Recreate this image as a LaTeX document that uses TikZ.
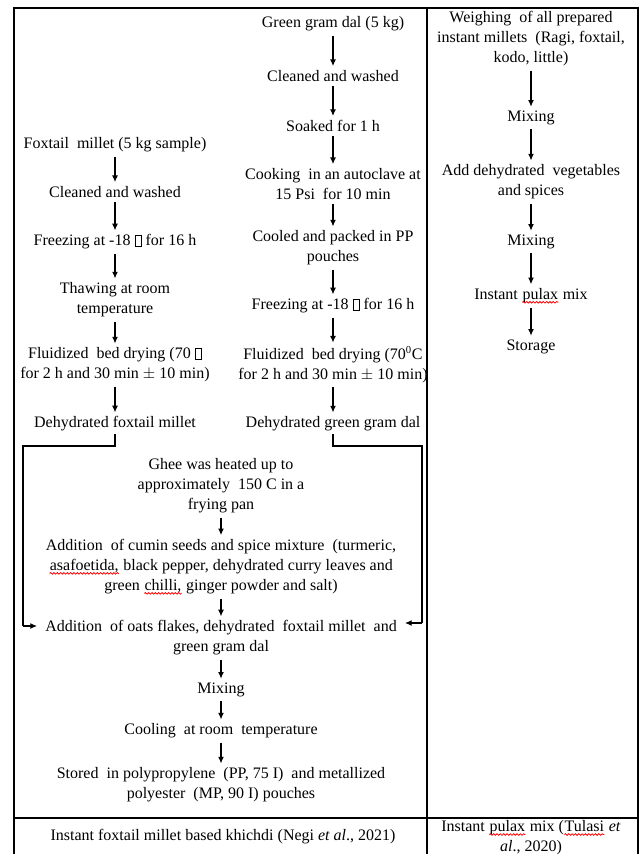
\documentclass[tikz,border=0pt]{standalone}
\usepackage{fontspec}
\setmainfont{Liberation Serif}
\usetikzlibrary{arrows.meta, decorations.pathmorphing}
\newcommand{\typo}[1]{\tikz[baseline=(w.base)]{\node[inner sep=0pt] (w) {#1};
  \draw[red, line width=0.6pt, decorate, decoration={snake, amplitude=0.6pt, segment length=2.5pt}]
    ([yshift=-2pt]w.base west) -- ([yshift=-2pt]w.base east);}}
\newcommand{\nog}{{\setlength\fboxsep{0pt}\setlength\fboxrule{0.4pt}%
  \fbox{\rule{0pt}{7.5pt}\hspace{4.5pt}}}}
\tikzset{
    stage/.style={inner xsep=2pt, inner ysep=2pt, yshift=-1.5pt, align=center,
    	font=\fontsize{12}{15}\selectfont},
    arr/.style={-{Latex[length=5pt,width=4.5pt]}, line width=0.9pt},
    flow/.style={arr, shorten <=1pt, shorten >=1pt},
    link/.style={line width=1pt},
    rule/.style={line width=1pt}
}

\begin{document}
\begin{tikzpicture}[x=0.75pt, y=-0.75pt]
  \useasboundingbox (0,0) rectangle (641,854);
  \draw[rule] (14,854) -- (14,8) -- (638,8) -- (638,854);
  \draw[rule] (427,8) -- (427,854);
  \draw[rule] (14,818) -- (638,818);

  % foxtail millet
  \node (fx1) [stage] at (115,143) {Foxtail\ \ millet (5 kg sample)};
  \node (fx2) [stage] at (115,190) {Cleaned and washed};
  \node (fx3) [stage] at (115,240) {Freezing at -18 \nog{} for 16 h};
  \node (fx4) [stage] at (115,298) {Thawing at room\\temperature};
  \node (fx5) [stage] at (115,363) {Fluidized\ \ bed drying (70 \nog\\for 2 h and 30 min $\pm$ 10 min)};
  \node (fx6) [stage] at (115,422) {Dehydrated foxtail millet};

  % green gram dal
  \node (gg1) [stage] at (333,22) {Green gram dal (5 kg)};
  \node (gg2) [stage] at (333,74) {Cleaned and washed};
  \node (gg3) [stage] at (333,124) {Soaked for 1 h};
  \node (gg4) [stage] at (333,182) {Cooking\ \ in an autoclave at\\15 Psi\ \ for 10 min};
  \node (gg5) [stage] at (333,246) {Cooled and packed in PP\\pouches};
  \node (gg6) [stage] at (333,304) {Freezing at -18 \nog{} for 16 h};
  \node (gg7) [stage] at (333,363) {Fluidized\ \ bed drying (70\textsuperscript{0}C\\for 2 h and 30 min $\pm$ 10 min)};
  \node (gg8) [stage] at (333,422) {Dehydrated green gram dal};

  % khichdi
  \node (kh1) [stage] at (221,484) {Ghee was heated up to\\approximately\ \ 150 C in a\\frying pan};
  \node (kh2) [stage] at (221,565) {Addition\ \ of cumin seeds and spice mixture\ \ (turmeric,\\\typo{asafoetida,} black pepper, dehydrated curry leaves and\\green \typo{chilli,} ginger powder and salt)};
  \node (kh3) [stage, inner xsep=6pt] at (221,636) {Addition\ \ of oats flakes, dehydrated\ \ foxtail millet\ \ and\\green gram dal};
  \node (kh4) [stage] at (221,688) {Mixing};
  \node (kh5) [stage] at (221,729) {Cooling\ \ at room\ \ temperature};
  \node (kh6) [stage] at (221,783) {Stored\ \ in polypropylene\ \ (PP, 75 I)\ \ and metallized\\polyester\ \ (MP, 90 I) pouches};
  \node (cap1) [stage] at (223,835) {Instant foxtail millet based khichdi (Negi \textit{et al}., 2021)};

  % pulax
  \node (pl1) [stage] at (531,37) {Weighing\ \ of all prepared\\instant millets\ \ (Ragi, foxtail,\\kodo, little)};
  \node (pl2) [stage] at (531,116) {Mixing};
  \node (pl3) [stage] at (531,180) {Add dehydrated\ \ vegetables\\and spices};
  \node (pl4) [stage] at (531,240) {Mixing};
  \node (pl5) [stage] at (531,294) {Instant \typo{pulax} mix};
  \node (pl6) [stage] at (531,345) {Storage};
  \node (cap2) [stage] at (531,836) {Instant \typo{pulax} mix (\typo{Tulasi} \textit{et}\\\textit{al}., 2020)};

  \draw[flow] (fx1) edge (fx2); \draw[flow] (fx2) edge (fx3); \draw[flow] (fx3) edge (fx4);
  \draw[flow] (fx4) edge (fx5); \draw[flow] (fx5) edge (fx6);
  \draw[flow] (gg1) edge (gg2); \draw[flow] (gg2) edge (gg3); \draw[flow] (gg3) edge (gg4);
  \draw[flow] (gg4) edge (gg5); \draw[flow] (gg5) edge (gg6); \draw[flow] (gg6) edge (gg7);
  \draw[flow] (gg7) edge (gg8);
  \draw[flow] (kh1) edge (kh2); \draw[flow] (kh2) edge (kh3); \draw[flow] (kh3) edge (kh4);
  \draw[flow] (kh4) edge (kh5); \draw[flow] (kh5) edge (kh6);
  \draw[flow] (pl1) edge (pl2); \draw[flow] (pl2) edge (pl3); \draw[flow] (pl3) edge (pl4);
  \draw[flow] (pl4) edge (pl5); \draw[flow] (pl5) edge (pl6);

  \coordinate (fxbend) at (23,446);
  \coordinate (fxin) at (23,626);
  \coordinate (ggbend) at (422,446);
  \coordinate (ggin) at (422,623);
  \draw[link] (fx6.south) |- (fxbend) -- (fxin);
  \draw[link, arr] (fxin) -- (kh3.west |- fxin);
  \draw[link] (gg8.south) |- (ggbend) -- (ggin);
  \draw[link, arr] (ggin) -- (kh3.east |- ggin);
\end{tikzpicture}
\end{document}
